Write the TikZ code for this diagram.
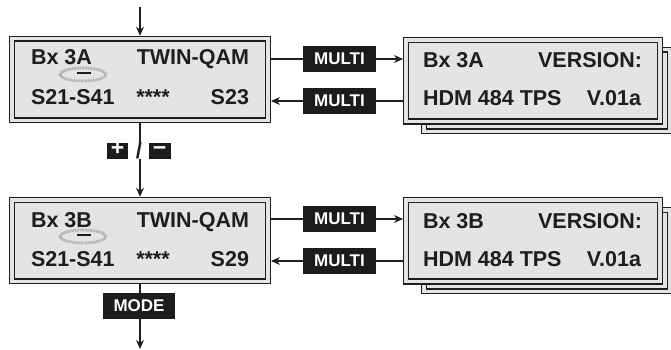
\documentclass[tikz,border=0pt]{standalone}
\usepackage{fontspec}
\setmainfont{Liberation Sans}
\usetikzlibrary{arrows.meta}
\definecolor{ink}{HTML}{1E1E1E}
\definecolor{lcdfill}{HTML}{E4E4E4}
\definecolor{keyfill}{HTML}{1C1C1C}
\definecolor{ringc}{HTML}{ABABAB}
\begin{document}
\begin{tikzpicture}[x=1pt,y=-1pt,
  lcd/.style={rectangle, draw=ink, line width=1.3pt, double=lcdfill, double distance=3.5pt,
              fill=lcdfill, outer sep=3pt, inner sep=0pt, minimum height=81.5pt},
  key/.style={rectangle, fill=keyfill, text=white, font=\bfseries\fontsize{17}{17}\selectfont,
              inner sep=0pt, outer sep=0pt},
  pmkey/.style={key, font=\bfseries\fontsize{23}{23}\selectfont, minimum height=16pt},
  txt/.style={inner sep=0pt, outer sep=0pt, text=ink, font=\bfseries\fontsize{21.5}{21.5}\selectfont},
  conn/.style={draw=ink, line width=1.3pt},
  arr/.style={conn, -{Stealth[length=9pt,width=8pt]}},
  ring/.style={draw=ringc, line width=2.8pt, dash pattern=on 0.9pt off 0.7pt},
  cursor/.style={draw=ink, line width=2pt}]
\useasboundingbox (0,0) rectangle (671,350);
\clip (0,0) rectangle (671,350);

% ---------- row 1 ----------
\node[lcd, minimum width=256pt] (L1) at (140,79.5) {};
\node[txt, anchor=base west] (l1a) at (31,65) {Bx 3A};
\node[txt, anchor=base east] (l1b) at (249,65) {TWIN-QAM};
\node[txt, anchor=base west] (l1c) at (31,104) {S21-S41};
\node[txt, anchor=base] (l1d) at (153,104) {****};
\node[txt, anchor=base east] (l1e) at (249,104) {S23};
\draw[ring] (83,74.5) ellipse (23pt and 6.5pt);
\draw[cursor] (77,73) -- (91,73);

\node[lcd, minimum width=246pt] (B1) at (547,90.5) {};
\node[lcd, minimum width=254pt] (R1) at (533,80.75) {};
\node[txt, anchor=base west] (r1a) at (423,68) {Bx 3A};
\node[txt, anchor=base east] (r1b) at (642,68) {VERSION:};
\node[txt, anchor=base west] (r1c) at (423,106) {HDM 484 TPS};
\node[txt, anchor=base east] (r1d) at (641,106) {V.01a};

\node[key, minimum width=73pt, minimum height=26pt] (m1) at (339.5,59) {MULTI};
\node[key, minimum width=73pt, minimum height=26pt] (m2) at (339.5,101) {MULTI};

\coordinate (in) at (140,7);
\draw[arr] (in) -- (L1.north);
\draw[conn] (L1.east |- m1) -- (m1.west);
\draw[arr] (m1.east) -- (R1.west |- m1);
\draw[conn] (R1.west |- m2) -- (m2.east);
\draw[arr] (m2.west) -- (L1.east |- m2);

% ---------- +/- ----------
\node[pmkey, minimum width=21pt, text height=12pt, text depth=4pt] (plus) at (117.5,151) {+};
\node[inner sep=0pt, text=ink, font=\bfseries\fontsize{22}{22}\selectfont, minimum height=16pt] (sl) at (139,151) {/};
\node[pmkey, minimum width=22pt, text height=12pt, text depth=4pt] (minus) at (159.5,151) {−};

% ---------- row 2 ----------
\node[lcd, minimum width=256pt] (L2) at (140,240.5) {};
\node[txt, anchor=base west] (l2a) at (31,227) {Bx 3B};
\node[txt, anchor=base east] (l2b) at (249,227) {TWIN-QAM};
\node[txt, anchor=base west] (l2c) at (31,266) {S21-S41};
\node[txt, anchor=base] (l2d) at (153,266) {****};
\node[txt, anchor=base east] (l2e) at (249,266) {S29};
\draw[ring] (83,236.5) ellipse (23pt and 6.5pt);
\draw[cursor] (77,235) -- (91,235);

\node[lcd, minimum width=246pt] (B2) at (547,250.5) {};
\node[lcd, minimum width=254pt] (R2) at (533,240.75) {};
\node[txt, anchor=base west] (r2a) at (423,228) {Bx 3B};
\node[txt, anchor=base east] (r2b) at (642,228) {VERSION:};
\node[txt, anchor=base west] (r2c) at (423,266) {HDM 484 TPS};
\node[txt, anchor=base east] (r2d) at (641,266) {V.01a};

\node[key, minimum width=73pt, minimum height=26pt] (m3) at (339.5,219) {MULTI};
\node[key, minimum width=73pt, minimum height=26pt] (m4) at (339.5,261) {MULTI};

\draw[conn] (L1.south) -- (L1.south |- sl.north);
\draw[arr] (L1.south |- sl.south) -- (L2.north);
\draw[conn] (L2.east |- m3) -- (m3.west);
\draw[arr] (m3.east) -- (R2.west |- m3);
\draw[conn] (R2.west |- m4) -- (m4.east);
\draw[arr] (m4.west) -- (L2.east |- m4);

% ---------- MODE ----------
\node[key, minimum width=72pt, minimum height=26pt] (mode) at (139,306) {MODE};
\coordinate (out) at (140,349);
\draw[conn] (L2.south) -- (L2.south |- mode.north);
\draw[arr] (L2.south |- mode.south) -- (out);
\end{tikzpicture}
\end{document}
